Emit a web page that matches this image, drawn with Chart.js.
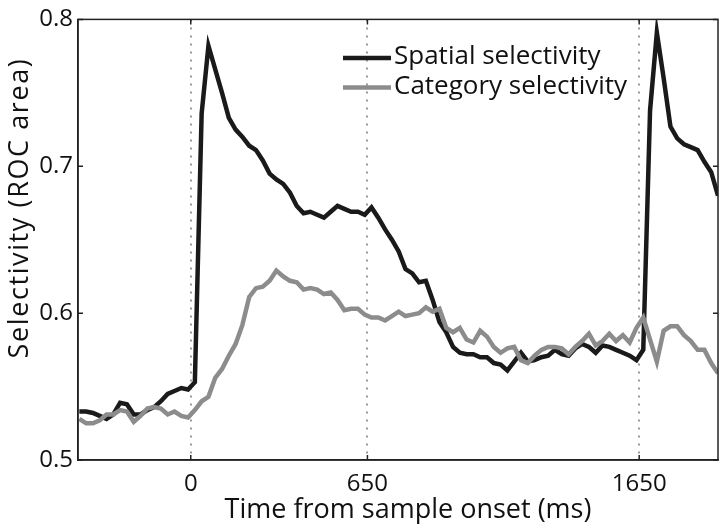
<!DOCTYPE html>
<html>
<head>
<meta charset="utf-8">
<script src="https://cdn.jsdelivr.net/npm/chart.js@4.4.0/dist/chart.umd.min.js"></script>
<style>
  html, body { margin: 0; padding: 0; background: #fff; }
  #wrap { width: 720px; height: 524px; }
</style>
</head>
<body>
<div id="wrap"><canvas id="chart" width="720" height="524"></canvas></div>
<script>
// time from sample onset (ms)
const times = [-410, -385, -360, -335, -310, -285, -260, -235, -210, -185, -160, -135, -110, -85, -60, -35, -10,
  15, 40, 65, 90, 115, 140, 165, 190, 215, 240, 265, 290, 315, 340, 365, 390, 415, 440, 465, 490, 515, 540, 565,
  590, 615, 640, 665, 690, 715, 740, 765, 790, 815, 840, 865, 890, 915, 940, 965, 990, 1015, 1040, 1065, 1090,
  1115, 1140, 1165, 1190, 1215, 1240, 1265, 1290, 1315, 1340, 1365, 1390, 1415, 1440, 1465, 1490, 1515, 1540,
  1565, 1590, 1615, 1640, 1665, 1690, 1715, 1740, 1765, 1790, 1815, 1840, 1865, 1890, 1915, 1940];

const spatial = [0.533, 0.533, 0.532, 0.530, 0.528, 0.531, 0.539, 0.538, 0.531, 0.531, 0.534, 0.536, 0.540, 0.545,
  0.547, 0.549, 0.548, 0.553, 0.736, 0.782, 0.766, 0.750, 0.733, 0.725, 0.720, 0.714, 0.711, 0.704, 0.695, 0.691,
  0.688, 0.682, 0.673, 0.668, 0.669, 0.667, 0.665, 0.669, 0.673, 0.671, 0.669, 0.669, 0.667, 0.672, 0.665, 0.657,
  0.650, 0.642, 0.630, 0.627, 0.621, 0.622, 0.609, 0.594, 0.587, 0.577, 0.573, 0.572, 0.572, 0.570, 0.570, 0.566,
  0.565, 0.561, 0.567, 0.573, 0.567, 0.568, 0.570, 0.571, 0.575, 0.572, 0.571, 0.576, 0.579, 0.577, 0.573, 0.578,
  0.577, 0.575, 0.573, 0.571, 0.568, 0.575, 0.738, 0.791, 0.760, 0.727, 0.719, 0.715, 0.713, 0.711, 0.703, 0.696,
  0.680];

const category = [0.528, 0.525, 0.525, 0.527, 0.531, 0.531, 0.534, 0.533, 0.526, 0.530, 0.535, 0.536, 0.535, 0.531,
  0.533, 0.530, 0.529, 0.534, 0.540, 0.543, 0.556, 0.562, 0.571, 0.579, 0.592, 0.611, 0.617, 0.618, 0.622, 0.629,
  0.625, 0.622, 0.621, 0.616, 0.617, 0.616, 0.613, 0.614, 0.609, 0.602, 0.603, 0.603, 0.599, 0.597, 0.597, 0.595,
  0.598, 0.601, 0.598, 0.599, 0.600, 0.604, 0.601, 0.603, 0.590, 0.587, 0.590, 0.582, 0.580, 0.588, 0.584, 0.577,
  0.573, 0.576, 0.577, 0.568, 0.566, 0.571, 0.575, 0.577, 0.577, 0.576, 0.572, 0.577, 0.581, 0.586, 0.578, 0.581,
  0.586, 0.581, 0.585, 0.580, 0.590, 0.597, 0.582, 0.567, 0.588, 0.591, 0.591, 0.585, 0.581, 0.575, 0.575, 0.566,
  0.559];

const xTicks = [0, 650, 1650];
const yTicks = [0.5, 0.6, 0.7, 0.8];
const seriesNames = ["Spatial selectivity", "Category selectivity"];
const seriesColors = ["#1a1a1a", "#8c8c8c"];
const xTitle = "Time from sample onset (ms)";
const yTitle = "Selectivity (ROC area)";

const FONT = "'Open Sans', 'DejaVu Sans', sans-serif";

// box, inward tick marks, axis titles and in-plot legend
const framePlugin = {
  id: "frame",
  afterDraw(chart) {
    const { ctx, chartArea: a, scales: { x, y } } = chart;
    ctx.save();
    ctx.strokeStyle = "#222";
    ctx.lineWidth = 1.5;
    ctx.strokeRect(a.left, a.top, a.right - a.left, a.bottom - a.top);
    ctx.beginPath();
    yTicks.forEach(v => {
      const py = y.getPixelForValue(v);
      ctx.moveTo(a.left, py); ctx.lineTo(a.left + 5, py);
      ctx.moveTo(a.right, py); ctx.lineTo(a.right - 5, py);
    });
    xTicks.forEach(v => {
      const px = x.getPixelForValue(v);
      ctx.moveTo(px, a.bottom); ctx.lineTo(px, a.bottom - 5);
      ctx.moveTo(px, a.top); ctx.lineTo(px, a.top + 5);
    });
    ctx.stroke();

    ctx.fillStyle = "#111";
    ctx.font = "27px " + FONT;
    ctx.textAlign = "center";
    ctx.textBaseline = "alphabetic";
    ctx.fillText(xTitle, 408, 518);

    // y axis title, spaced out like the original
    ctx.save();
    ctx.translate(20, 208);
    ctx.rotate(-Math.PI / 2);
    ctx.letterSpacing = "1.6px";
    ctx.textBaseline = "middle";
    ctx.fillText(yTitle, 0, 0);
    ctx.restore();

    ctx.font = "26px " + FONT;
    ctx.textAlign = "left";
    ctx.textBaseline = "middle";
    seriesNames.forEach((name, i) => {
      const ly = 58 + i * 29.5;
      ctx.strokeStyle = seriesColors[i];
      ctx.lineWidth = 4.5;
      ctx.beginPath();
      ctx.moveTo(343, ly); ctx.lineTo(391, ly);
      ctx.stroke();
      ctx.fillText(name, 394, ly - 1);
    });
    ctx.restore();
  }
};

new Chart(document.getElementById("chart"), {
  type: "line",
  data: {
    datasets: [
      {
        label: seriesNames[1],
        data: times.map((t, i) => ({ x: t, y: category[i] })),
        borderColor: seriesColors[1],
        borderWidth: 4.5,
        pointRadius: 0,
        tension: 0,
        order: 0,
      },
      {
        label: seriesNames[0],
        data: times.map((t, i) => ({ x: t, y: spatial[i] })),
        borderColor: seriesColors[0],
        borderWidth: 4.5,
        pointRadius: 0,
        tension: 0,
        order: 1,
      },
    ],
  },
  options: {
    responsive: false,
    animation: false,
    devicePixelRatio: 1,
    layout: { padding: { left: 0, right: 2, top: 7, bottom: 0 } },
    plugins: { legend: { display: false }, tooltip: { enabled: false } },
    scales: {
      x: {
        type: "linear",
        min: -415,
        max: 1940,
        afterBuildTicks: s => { s.ticks = xTicks.map(v => ({ value: v })); },
        afterFit: s => { s.height = 64; },
        ticks: { color: "#111", font: { family: FONT, size: 24 }, padding: 10, maxRotation: 0,
                 callback: v => String(v) },
        grid: { color: "#9a9a9a", lineWidth: 2, drawTicks: false },
        border: { display: true, color: "#222", width: 1.5, dash: [2, 6] },
        title: { display: false },
      },
      y: {
        min: 0.5,
        max: 0.8,
        afterBuildTicks: s => { s.ticks = yTicks.map(v => ({ value: v })); },
        afterFit: s => { s.width = 78; },
        ticks: { color: "#111", font: { family: FONT, size: 24 }, padding: 5,
                 callback: v => v.toFixed(1) },
        grid: { display: false, drawTicks: false },
        border: { display: true, color: "#222", width: 1.5 },
        title: { display: false },
      },
    },
  },
  plugins: [framePlugin],
});
</script>
</body>
</html>
